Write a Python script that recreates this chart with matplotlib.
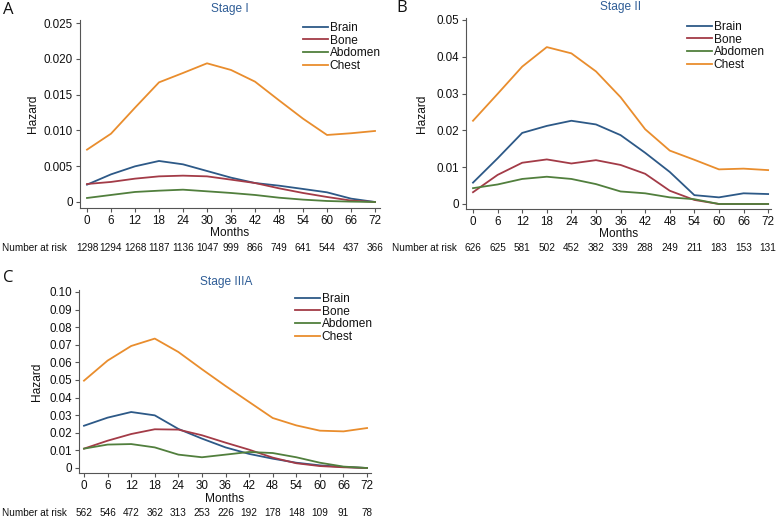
import matplotlib
matplotlib.use("Agg")
import matplotlib.pyplot as plt
import matplotlib.transforms as mtransforms

plt.rcParams['font.family'] = ['Liberation Sans', 'DejaVu Sans']

months = [0, 6, 12, 18, 24, 30, 36, 42, 48, 54, 60, 66, 72]
sites = ["Brain", "Bone", "Abdomen", "Chest"]
colors = ["#2d5987", "#a33b47", "#517f3d", "#e98d2d"]

# Stage I
s1_brain = [0.00242, 0.00386, 0.00498, 0.00573, 0.00526, 0.00433, 0.00340, 0.00265, 0.00228, 0.00182, 0.00135, 0.00047, 0.0]
s1_bone = [0.00251, 0.00280, 0.00326, 0.00358, 0.00368, 0.00358, 0.00312, 0.00265, 0.00191, 0.00126, 0.00070, 0.00020, 0.0]
s1_abdomen = [0.00056, 0.00098, 0.00140, 0.00158, 0.00172, 0.00149, 0.00126, 0.00098, 0.00060, 0.00033, 0.00014, 0.00005, 0.0]
s1_chest = [0.00731, 0.00954, 0.01317, 0.01671, 0.01802, 0.01937, 0.01844, 0.01681, 0.01420, 0.01164, 0.00936, 0.00960, 0.00992]
s1_risk = [1298, 1294, 1268, 1187, 1136, 1047, 999, 866, 749, 641, 544, 437, 366]

# Stage II
s2_brain = [0.0058, 0.0124, 0.0193, 0.0212, 0.0226, 0.0216, 0.0187, 0.0139, 0.0087, 0.0024, 0.0018, 0.0029, 0.0027]
s2_bone = [0.0032, 0.0079, 0.0112, 0.0121, 0.0110, 0.0119, 0.0106, 0.0082, 0.0036, 0.0011, 0.0, 0.0, 0.0]
s2_abdomen = [0.0043, 0.0053, 0.0068, 0.0074, 0.0068, 0.0054, 0.0034, 0.0029, 0.0018, 0.0013, 0.0, 0.0, 0.0]
s2_chest = [0.0226, 0.0299, 0.0373, 0.0426, 0.0409, 0.0360, 0.0290, 0.0203, 0.0145, 0.0120, 0.0094, 0.0096, 0.0092]
s2_risk = [626, 625, 581, 502, 452, 382, 339, 288, 249, 211, 183, 153, 131]

# Stage IIIA
s3_brain = [0.0240, 0.0286, 0.0318, 0.0299, 0.0222, 0.0167, 0.0117, 0.0080, 0.0053, 0.0030, 0.0015, 0.0006, 0.0]
s3_bone = [0.0110, 0.0155, 0.0193, 0.0220, 0.0218, 0.0186, 0.0144, 0.0104, 0.0059, 0.0027, 0.0011, 0.0004, 0.0]
s3_abdomen = [0.0110, 0.0133, 0.0136, 0.0117, 0.0076, 0.0061, 0.0076, 0.0091, 0.0085, 0.0061, 0.0030, 0.0008, 0.0]
s3_chest = [0.0496, 0.0610, 0.0693, 0.0735, 0.0659, 0.0561, 0.0466, 0.0375, 0.0284, 0.0242, 0.0212, 0.0208, 0.0227]
s3_risk = [562, 546, 472, 362, 313, 253, 226, 192, 178, 148, 109, 91, 78]

y1_ticks = [0, 0.005, 0.010, 0.015, 0.020, 0.025]
y1_labels = ["0", "0.005", "0.010", "0.015", "0.020", "0.025"]
y2_ticks = [0, 0.01, 0.02, 0.03, 0.04, 0.05]
y2_labels = ["0", "0.01", "0.02", "0.03", "0.04", "0.05"]
y3_ticks = [0, 0.01, 0.02, 0.03, 0.04, 0.05, 0.06, 0.07, 0.08, 0.09, 0.10]
y3_labels = ["0", "0.01", "0.02", "0.03", "0.04", "0.05", "0.06", "0.07", "0.08", "0.09", "0.10"]

W, H = 777, 518
fig = plt.figure(figsize=(W / 100, H / 100), dpi=100)

title_color = "#2f5d96"
axis_color = "#555555"


def make_panel(box, xlim, ylim, series, yticks, ylabels, risk, title, title_xy,
               letter, letter_xy, legend_xy, risk_label_x, risk_y_px, months_y_px, hazard_x_px):
    l, t, r, b = box
    ax = fig.add_axes([l / W, 1 - b / H, (r - l) / W, (b - t) / H])
    for vals, c, name in zip(series, colors, sites):
        ax.plot(months, vals, color=c, lw=1.3, label=name)
    ax.set_xlim(*xlim)
    ax.set_ylim(*ylim)
    ax.set_xticks(months)
    ax.set_xticklabels([str(m) for m in months])
    ax.set_yticks(yticks)
    ax.set_yticklabels(ylabels)
    for s in ["top", "right"]:
        ax.spines[s].set_visible(False)
    for s in ["left", "bottom"]:
        ax.spines[s].set_color(axis_color)
        ax.spines[s].set_linewidth(0.8)
    ax.tick_params(axis="both", direction="out", length=3, width=0.8, color=axis_color,
                   labelsize=8.4, labelcolor="#111111", pad=2)
    # axis titles
    ax.set_xlabel("Months", fontsize=8.6, color="#111111")
    ax.xaxis.label.set_va("center")
    ax.xaxis.set_label_coords(0.5, (b - months_y_px) / (b - t))
    ax.set_ylabel("Hazard", fontsize=8.6, color="#111111")
    ax.yaxis.label.set_va("center")
    ax.yaxis.set_label_coords((hazard_x_px - l) / (r - l), 0.5)
    # number at risk
    trans = mtransforms.blended_transform_factory(ax.transData, ax.transAxes)
    ry = (b - risk_y_px) / (b - t)
    for m, n in zip(months, risk):
        ax.text(m, ry, str(n), transform=trans, ha="center", va="center",
                fontsize=7.2, color="#111111")
    fig.text(risk_label_x / W, 1 - risk_y_px / H, "Number at risk", ha="left", va="center",
             fontsize=7.2, color="#111111")
    # title
    fig.text(title_xy[0] / W, 1 - title_xy[1] / H, title, ha="center", va="center",
             fontsize=8.6, color=title_color)
    fig.text(letter_xy[0] / W, 1 - letter_xy[1] / H, letter, ha="left", va="center",
             fontsize=12, color="#111111", family="Open Sans")
    leg = ax.legend(loc="upper left", bbox_to_anchor=(legend_xy[0] / W, 1 - legend_xy[1] / H),
                    bbox_transform=fig.transFigure, frameon=False, fontsize=8.6,
                    handlelength=2.1, handletextpad=0.15, labelspacing=0.05,
                    borderpad=0, borderaxespad=0)
    for tx in leg.get_texts():
        tx.set_color("#111111")
    return ax


make_panel((80, 20, 380, 208), (-1.75, 73.25), (-0.00084, 0.02542),
           [s1_brain, s1_bone, s1_abdomen, s1_chest], y1_ticks, y1_labels, s1_risk,
           "Stage I", (230, 9), "A", (3, 10), (303, 22), 2, 248, 233, 33)

make_panel((466, 18, 771, 209), (-1.71, 72.7), (-0.00136, 0.0505),
           [s2_brain, s2_bone, s2_abdomen, s2_chest], y2_ticks, y2_labels, s2_risk,
           "Stage II", (621, 7), "B", (396, 8), (687, 21), 392, 248, 234, 422)

make_panel((79, 290, 371, 473), (-1.27, 73.0), (-0.00284, 0.1011),
           [s3_brain, s3_bone, s3_abdomen, s3_chest], y3_ticks, y3_labels, s3_risk,
           "Stage IIIA", (226, 282), "C", (3, 278), (295, 293), 2, 513, 499, 37)

fig.savefig("out.png", dpi=100)
